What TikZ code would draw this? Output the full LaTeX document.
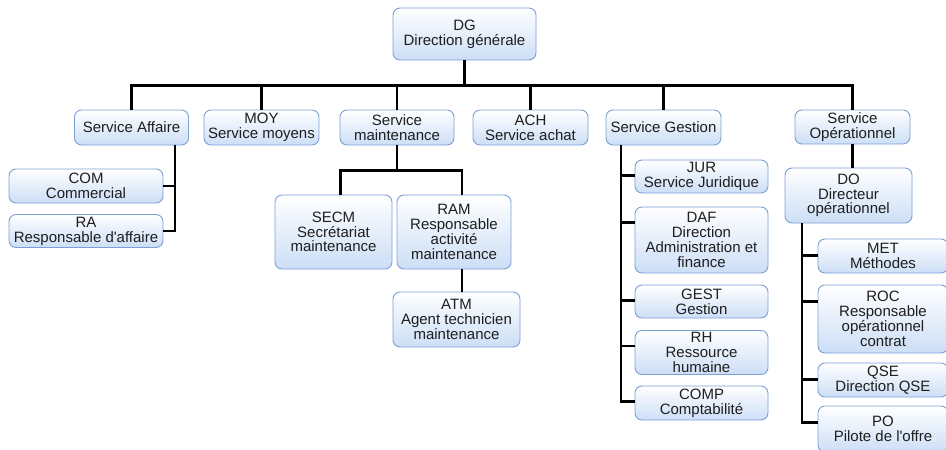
\documentclass[tikz,border=0pt]{standalone}
\usepackage{fontspec}
\setmainfont{Liberation Sans}
\definecolor{boxline}{RGB}{125,160,212}
\definecolor{boxfill}{RGB}{204,222,246}
\definecolor{boxtext}{RGB}{30,30,30}
\tikzset{
	orgbox/.style={rectangle, rounded corners=7pt, draw=boxline, line width=0.9pt,
		top color=white, bottom color=boxfill, text=boxtext, align=center,
		inner sep=2pt, font=\fontsize{15}{14.8}\selectfont},
	link/.style={line width=2.4pt, black}
}
\begin{document}
\begin{tikzpicture}[x=1pt, y=-1pt]
	\useasboundingbox (0,0) rectangle (946,450);

	\node[orgbox, minimum width=143, minimum height=52] (dg) at (464.5,34) {DG\\Direction générale};

	% services
	\node[orgbox, minimum width=114, minimum height=35] (saff) at (131.5,127.5) {Service Affaire};
	\node[orgbox, minimum width=115, minimum height=35] (moy) at (261.5,127.5) {MOY\\Service moyens};
	\node[orgbox, minimum width=114, minimum height=35] (smaint) at (397,127.5) {Service\\maintenance};
	\node[orgbox, minimum width=115, minimum height=35] (ach) at (530.5,127.5) {ACH\\Service achat};
	\node[orgbox, minimum width=115, minimum height=35] (sgest) at (663.5,127.5) {Service Gestion};
	\node[orgbox, minimum width=115, minimum height=34] (sop) at (852.5,127) {Service\\Opérationnel};

	\draw[link] (dg.south) -- ++(0,25) coordinate (bus);
	\foreach \n in {saff, moy, smaint, ach, sgest, sop}
		\draw[link] (bus) -| (\n.north);

	% service affaire
	\node[orgbox, minimum width=154, minimum height=34] (com) at (86,186) {COM\\Commercial};
	\node[orgbox, minimum width=154, minimum height=33] (ra) at (86,231) {RA\\Responsable d\textquotesingle affaire};
	\coordinate (atrunk) at ([xshift=43.5pt]saff.south);
	\draw[link] (atrunk) |- (com.east);
	\draw[link] (atrunk) |- (ra.east);

	% service maintenance
	\node[orgbox, minimum width=117, minimum height=74] (secm) at (333.5,232) {SECM\\Secrétariat\\maintenance};
	\node[orgbox, minimum width=114, minimum height=74] (ram) at (454,232) {RAM\\Responsable\\activité\\maintenance};
	\node[orgbox, minimum width=127, minimum height=55] (atm) at (456.5,319.5) {ATM\\Agent technicien\\maintenance};
	\draw[link] (smaint.south) -- ++(0,25) coordinate (mbar);
	\draw[link] (mbar) -| ([xshift=7pt]secm.north);
	\draw[link] (mbar) -| ([xshift=8pt]ram.north);
	\draw[link] ([xshift=8pt]ram.south) -- ([xshift=8pt]ram.south |- atm.north);

	% service gestion
	\node[orgbox, minimum width=133, minimum height=33] (jur) at (701.5,176.5) {JUR\\Service Juridique};
	\node[orgbox, minimum width=133, minimum height=66] (daf) at (701.5,240) {DAF\\Direction\\Administration et\\finance};
	\node[orgbox, minimum width=133, minimum height=33] (gest) at (701.5,301.5) {GEST\\Gestion};
	\node[orgbox, minimum width=133, minimum height=43] (rh) at (701.5,352.5) {RH\\Ressource\\humaine};
	\node[orgbox, minimum width=133, minimum height=34] (comp) at (701.5,403) {COMP\\Comptabilité};
	\coordinate (gtrunk) at ([xshift=-42.5pt]sgest.south);
	\foreach \n in {jur, daf, gest, rh, comp}
		\draw[link] (gtrunk) |- ([yshift=-16pt]\n.north west);

	% service operationnel
	\node[orgbox, minimum width=127, minimum height=55] (do) at (848.5,195.5) {DO\\Directeur\\opérationnel};
	\node[orgbox, minimum width=130, minimum height=34] (met) at (883,256) {MET\\Méthodes};
	\node[orgbox, minimum width=130, minimum height=68] (roc) at (883,319) {ROC\\Responsable\\opérationnel\\contrat};
	\node[orgbox, minimum width=130, minimum height=34] (qse) at (883,380) {QSE\\Direction QSE};
	\node[orgbox, minimum width=130, minimum height=46] (po) at (883,429) {PO\\Pilote de l\textquotesingle offre};
	\draw[link] (sop.south) -- (sop.south |- do.north);
	\coordinate (otrunk) at ([xshift=-46.5pt]do.south);
	\foreach \n in {met, roc, qse, po}
		\draw[link] (otrunk) |- ([yshift=-17pt]\n.north west);
\end{tikzpicture}
\end{document}
